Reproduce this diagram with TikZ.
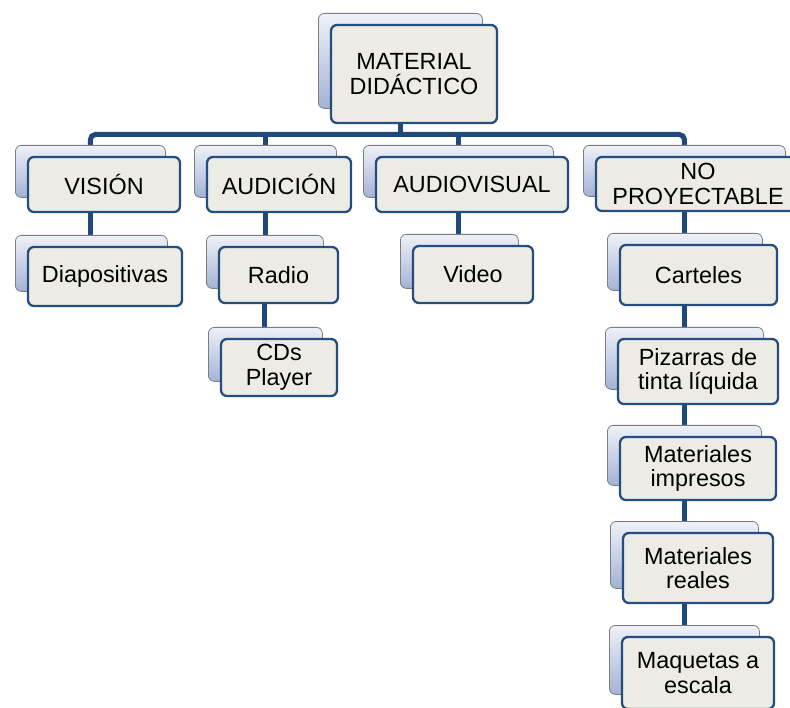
\documentclass[tikz,border=0pt]{standalone}
\usepackage{fontspec}
\setmainfont{Liberation Sans}
\usetikzlibrary{calc}

\definecolor{navy}{RGB}{31,73,125}
\definecolor{boxborder}{RGB}{36,78,128}
\definecolor{boxfill}{RGB}{237,236,228}
\definecolor{backtop}{RGB}{238,241,248}
\definecolor{backbot}{RGB}{164,178,214}
\definecolor{backline}{RGB}{125,125,125}

\pgfdeclarelayer{lines}
\pgfsetlayers{lines,main}

\tikzset{
  frontbox/.style={draw=boxborder, line width=2.3pt, fill=boxfill,
    rounded corners=6pt, inner sep=0pt, align=center,
    font=\fontsize{23.4}{24.5}\selectfont},
  backbox/.style={draw=backline, line width=0.8pt, top color=backtop,
    bottom color=backbot, rounded corners=6pt, inner sep=0pt},
  conn/.style={draw=navy, line width=5pt},
}

% #1 name, #2 #3 centre of the front card, #4 width, #5 height, #6 label
\newcommand\boxpair[6]{%
  \pgfmathsetmacro\bkw{#4-2}%
  \pgfmathsetmacro\bkh{#5-3}%
  \pgfmathsetmacro\bkx{#2-#4/2-13}%
  \pgfmathsetmacro\bky{#3-#5/2-12}%
  \node[backbox, anchor=north west, minimum width=\bkw pt, minimum height=\bkh pt]
    (#1b) at (\bkx,\bky) {};
  \node[frontbox, minimum width=#4pt, minimum height=#5pt] (#1) at (#2,#3) {#6};}

\begin{document}
\begin{tikzpicture}[x=1pt,y=-1pt]
\useasboundingbox (0,0) rectangle (790,708);

% root
\boxpair{main}{414}{74}{166}{98}{MATERIAL\\DIDÁCTICO}

% first level
\boxpair{vis}{104}{184.5}{152}{55}{VISIÓN}
\boxpair{aud}{279}{184.5}{144}{55}{AUDICIÓN}
\boxpair{av}{472}{184.5}{192}{55}{AUDIOVISUAL}
\boxpair{np}{698}{184}{204}{54}{NO\\PROYECTABLE}

% second level
\boxpair{dia}{105}{276.5}{154}{59}{Diapositivas}
\boxpair{rad}{278.5}{275}{119}{56}{Radio}
\boxpair{cds}{279}{367.5}{116}{57}{CDs\\Player}
\boxpair{vid}{473}{274.5}{120}{57}{Video}
\boxpair{car}{698.5}{275}{157}{60}{Carteles}
\boxpair{piz}{698}{371.5}{160}{65}{Pizarras de\\tinta líquida}
\boxpair{imp}{698}{468.5}{156}{63}{Materiales\\impresos}
\boxpair{rea}{698}{568}{150}{70}{Materiales\\reales}
\boxpair{maq}{698}{673}{152}{72}{Maquetas a\\escala}

% connectors, kept behind the cards
\coordinate (bar) at (0,134.5);
\begin{pgfonlayer}{lines}
  \draw[conn] (mainb.south) -- (mainb.south |- bar);
  \draw[conn, rounded corners=5pt] (visb.north) |- (npb.north |- bar) -- (npb.north);
  \draw[conn] (audb.north |- bar) -- (audb.north);
  \draw[conn] (avb.north |- bar) -- (avb.north);
  \draw[conn] (visb.south) -- (visb.south |- diab.north);
  \draw[conn] (audb.south) -- (audb.south |- radb.north);
  \draw[conn] (radb.south) -- (radb.south |- cdsb.north);
  \draw[conn] (avb.south) -- (avb.south |- vidb.north);
  \draw[conn] (npb.south) -- (npb.south |- carb.north);
  \draw[conn] (carb.south) -- (carb.south |- pizb.north);
  \draw[conn] (pizb.south) -- (pizb.south |- impb.north);
  \draw[conn] (impb.south) -- (impb.south |- reab.north);
  \draw[conn] (reab.south) -- (reab.south |- maqb.north);
\end{pgfonlayer}
\end{tikzpicture}
\end{document}
